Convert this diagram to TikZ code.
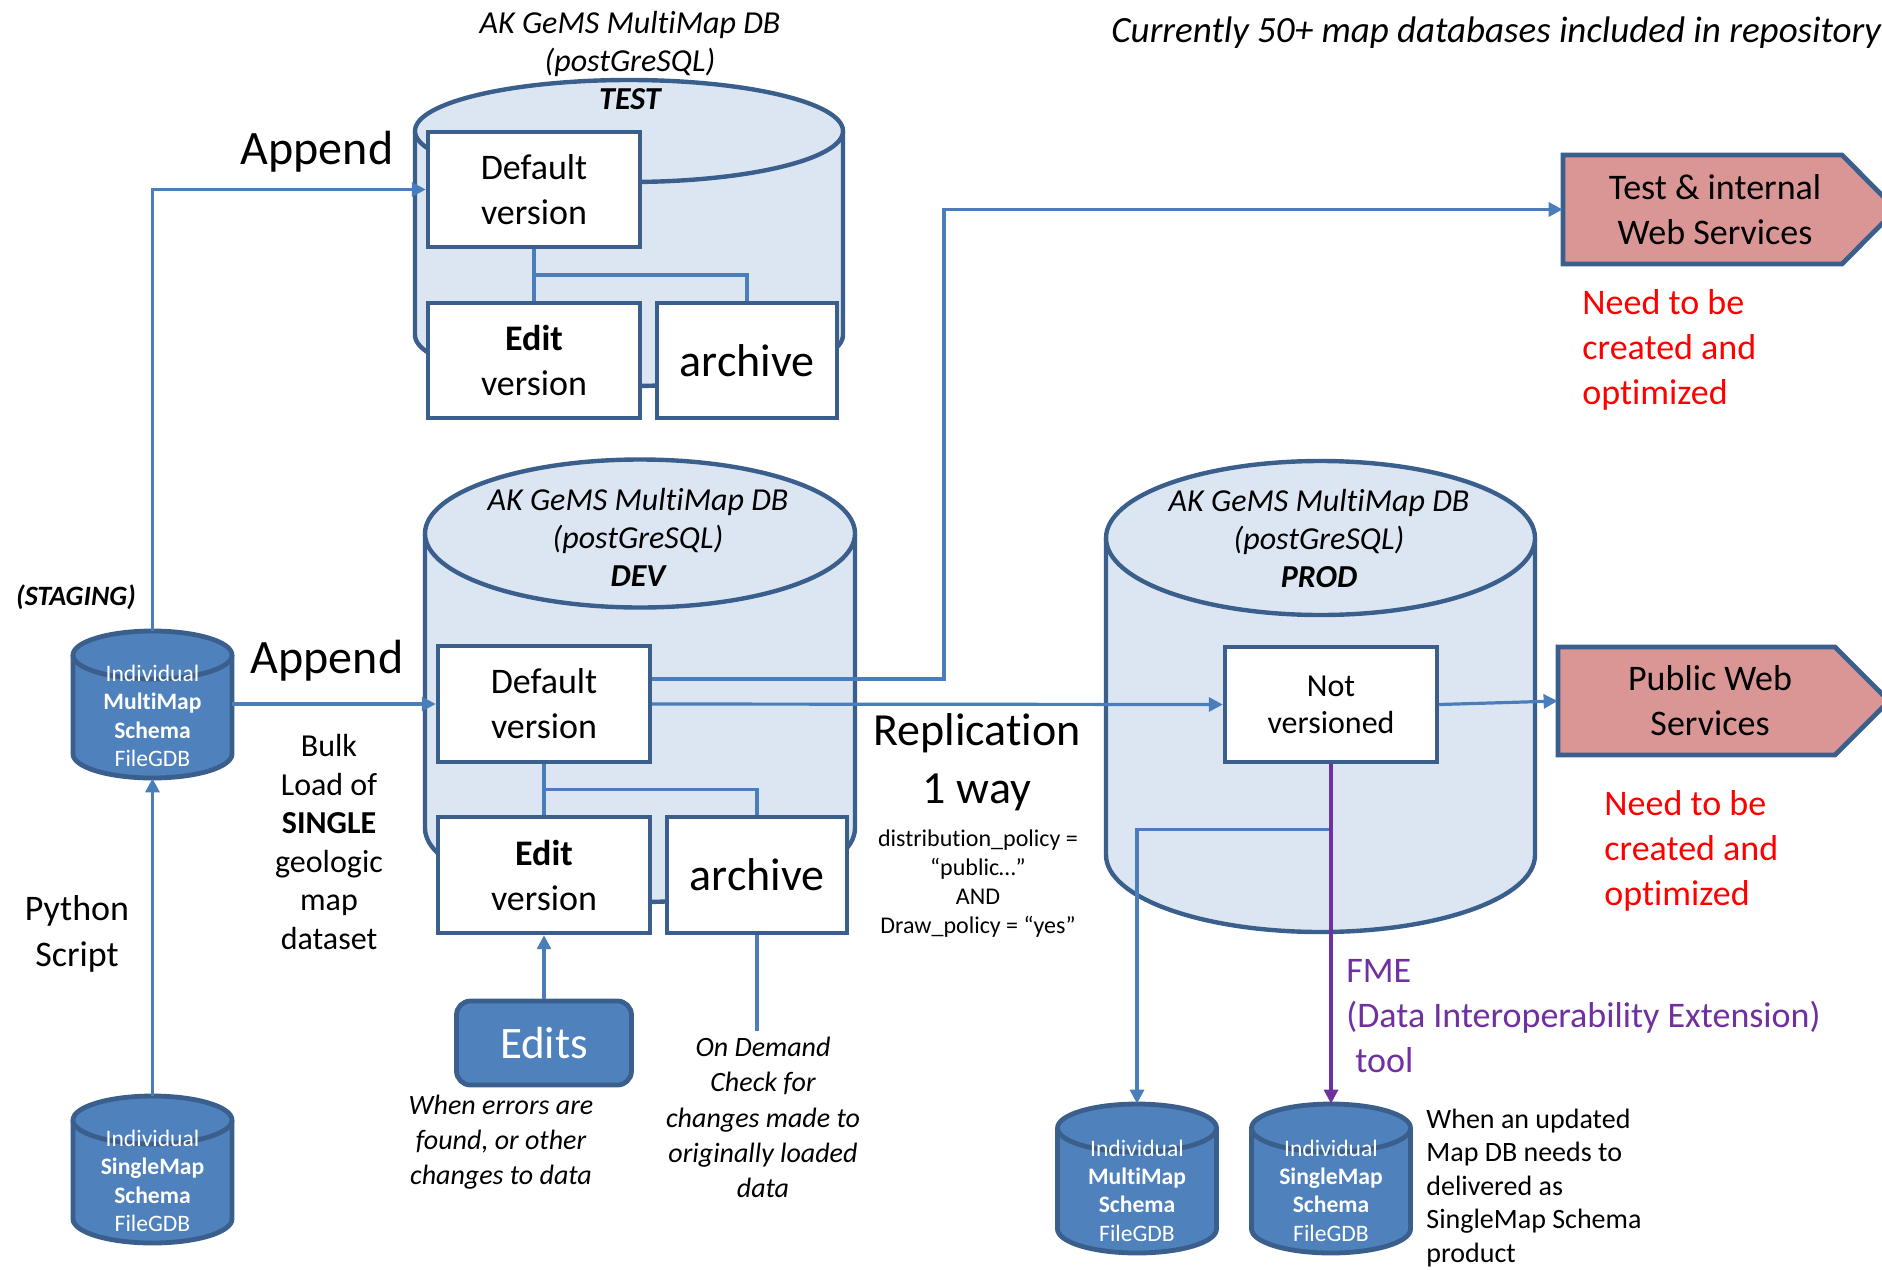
\documentclass[tikz,border=0pt]{standalone}
\usepackage{fontspec}
\setmainfont{Carlito}[Ligatures=NoCommon]
\usetikzlibrary{arrows.meta,calc}
\definecolor{cylfill}{HTML}{DCE6F2}
\definecolor{cylline}{HTML}{3B5F8C}
\definecolor{connblue}{HTML}{4A7EBB}
\definecolor{accentblue}{HTML}{4F81BD}
\definecolor{webfill}{HTML}{D99694}
\definecolor{fmepurple}{HTML}{7030A0}
\definecolor{needred}{HTML}{FF0000}
% #1 style, #2 cx, #3 y of top ellipse centre, #4 y of bottom ellipse centre, #5 rx, #6 ry
\newcommand{\dbcyl}[6]{%
  \path[#1, draw=none] ({#2-#5},{#3}) -- ({#2-#5},{#4})
    .. controls ({#2-#5},{#4+0.5523*#6}) and ({#2-0.5523*#5},{#4+#6}) .. ({#2},{#4+#6})
    .. controls ({#2+0.5523*#5},{#4+#6}) and ({#2+#5},{#4+0.5523*#6}) .. ({#2+#5},{#4})
    -- ({#2+#5},{#3}) -- cycle;
  \path[#1, fill=none] ({#2-#5},{#3}) -- ({#2-#5},{#4})
    .. controls ({#2-#5},{#4+0.5523*#6}) and ({#2-0.5523*#5},{#4+#6}) .. ({#2},{#4+#6})
    .. controls ({#2+0.5523*#5},{#4+#6}) and ({#2+#5},{#4+0.5523*#6}) .. ({#2+#5},{#4})
    -- ({#2+#5},{#3});
  \path[#1] (#2,#3) ellipse [x radius=#5, y radius=#6];
}
\begin{document}
\begin{tikzpicture}[x=0.5pt,y=-0.5pt,
  bigcyl/.style={fill=cylfill, draw=cylline, line width=2.2pt},
  smallcyl/.style={fill=accentblue, draw=cylline, line width=2.4pt},
  websvc/.style={fill=webfill, draw=cylline, line width=2.4pt, line join=miter},
  vbox/.style={draw=cylline, line width=2.2pt, fill=white, align=center, inner sep=0pt,
    font=\fontsize{18}{22.5}\selectfont},
  ghost/.style={draw=none, inner sep=0pt},
  cyltext/.style={align=center, text=white, inner sep=0pt, font=\fontsize{11.8}{14.2}\selectfont},
  dbtitle/.style={align=center, inner sep=0pt, font=\itshape\fontsize{16}{19}\selectfont},
  lbl/.style={align=center, inner sep=0pt},
  conn/.style={draw=connblue, line width=1.6pt},
  arr/.style={conn, -{Triangle[length=7pt,width=7pt]}}]
\useasboundingbox (0,0) rectangle (1882,1269);

% database cylinders
\dbcyl{bigcyl}{629}{131}{335}{214}{51}
\dbcyl{bigcyl}{640}{533.5}{828}{215}{74}
\dbcyl{bigcyl}{1320.5}{538}{855}{214.5}{77}
\dbcyl{smallcyl}{152.5}{655}{754}{79.5}{24}
\dbcyl{smallcyl}{152.5}{1120}{1219}{79.5}{24}
\dbcyl{smallcyl}{1137}{1128}{1229}{79.5}{24}
\dbcyl{smallcyl}{1331}{1128}{1229}{79.5}{24}

% web service pentagons
\path[websvc] (1563,155) -- (1842,155) -- (1896,209.5) -- (1842,264) -- (1563,264) -- cycle;
\path[websvc] (1558,647) -- (1835,647) -- (1889,701) -- (1835,755) -- (1558,755) -- cycle;

% boxes
\node[vbox, minimum width=106pt, minimum height=57.5pt] (tdef) at (534,189.5) {Default\\version};
\node[vbox, minimum width=106pt, minimum height=57.5pt] (tedit) at (534,360.5) {\textbf{Edit}\\version};
\node[vbox, minimum width=90pt, minimum height=57.5pt, font=\fontsize{23}{27}\selectfont] (tarch) at (747,360.5) {archive};
\node[vbox, minimum width=106pt, minimum height=58pt] (ddef) at (544,704) {Default\\version};
\node[vbox, minimum width=106pt, minimum height=58pt] (dedit) at (544,875) {\textbf{Edit}\\version};
\node[vbox, minimum width=90pt, minimum height=58pt, font=\fontsize{23}{27}\selectfont] (darch) at (757,875) {archive};
\node[vbox, minimum width=106pt, minimum height=57.5pt, font=\fontsize{16}{18.5}\selectfont] (pnv) at (1331,704.5) {Not\\versioned};
\node[draw=cylline, fill=accentblue, line width=2.4pt, rounded corners=7pt, minimum width=87.5pt,
  minimum height=42pt, inner sep=0pt, text=white, font=\fontsize{22.5}{27}\selectfont] (edits) at (544,1043) {Edits};

% small cylinder bodies (named) and their texts
\node[ghost, minimum width=79.5pt, minimum height=73.5pt] (stg) at (152.5,704.5) {};
\node[cyltext] (stgtxt) at (152.5,716) {Individual\\\textbf{MultiMap}\\\textbf{Schema}\\FileGDB};
\node[ghost, minimum width=79.5pt, minimum height=73.5pt] (slb) at (152.5,1169.5) {};
\node[cyltext] (slbtxt) at (152.5,1181) {Individual\\\textbf{SingleMap}\\\textbf{Schema}\\FileGDB};
\node[ghost, minimum width=79.5pt, minimum height=74.5pt] (mmb) at (1137,1178.5) {};
\node[cyltext] (mmbtxt) at (1137,1190.5) {Individual\\\textbf{MultiMap}\\\textbf{Schema}\\FileGDB};
\node[ghost, minimum width=79.5pt, minimum height=74.5pt] (smb) at (1331,1178.5) {};
\node[cyltext] (smbtxt) at (1331,1190.5) {Individual\\\textbf{SingleMap}\\\textbf{Schema}\\FileGDB};

% web service nodes
\node[ghost, minimum width=152pt, minimum height=54.5pt, align=center, font=\fontsize{18}{22.5}\selectfont] (twss) at (1715,209.5) {Test \& internal\\Web Services};
\node[ghost, minimum width=152pt, minimum height=54pt, align=center, font=\fontsize{18}{22.5}\selectfont] (pws) at (1710,701) {Public Web\\Services};

% texts
\node[lbl, anchor=west, font=\itshape\fontsize{18.5}{22}\selectfont] (title) at (1111,33) {Currently 50+ map databases included in repository};
\node[dbtitle] (ttitle) at (630,60) {AK GeMS MultiMap DB\\(postGreSQL)\\\textbf{TEST}};
\node[dbtitle] (dtitle) at (638,537) {AK GeMS MultiMap DB\\(postGreSQL)\\\textbf{DEV}};
\node[dbtitle] (ptitle) at (1319,538) {AK GeMS MultiMap DB\\(postGreSQL)\\\textbf{PROD}};
\node[lbl, font=\fontsize{24}{29}\selectfont] (app1) at (317,152) {Append};
\node[lbl, font=\fontsize{24}{29}\selectfont] (app2) at (327,661) {Append};
\node[lbl, font=\bfseries\itshape\fontsize{14}{17}\selectfont] (staging) at (76,597) {(STAGING)};
\node[lbl, font=\fontsize{16}{19.25}\selectfont] (bulk) at (329,842) {Bulk\\Load of\\\textbf{SINGLE}\\geologic\\map\\dataset};
\node[lbl, font=\fontsize{18}{23}\selectfont] (python) at (77,934) {Python\\Script};
\node[lbl, font=\itshape\fontsize{14}{17.5}\selectfont] (whenerr) at (501,1142) {When errors are\\found, or other\\changes to data};
\node[lbl, font=\itshape\fontsize{14}{17.6}\selectfont] (ondemand) at (763,1117.5) {On Demand\\Check for\\changes made to\\originally loaded\\data};
\node[lbl, font=\fontsize{23}{29}\selectfont] (repl) at (977,762) {Replication\\1 way};
\node[lbl, font=\fontsize{12}{14.5}\selectfont] (policy) at (978,883.5) {distribution\_policy =\\“public…”\\AND\\Draw\_policy = “yes”};
\node[lbl, align=left, anchor=west, text=needred, font=\fontsize{18}{22.5}\selectfont] (need1) at (1582,350) {Need to be\\created and\\optimized};
\node[lbl, align=left, anchor=west, text=needred, font=\fontsize{18}{22.5}\selectfont] (need2) at (1604,851) {Need to be\\created and\\optimized};
\node[lbl, align=left, anchor=west, text=fmepurple, font=\fontsize{18}{22.5}\selectfont] (fme) at (1346,1016) {FME\\(Data Interoperability Extension)\\\hspace*{0.25em}tool};
\node[lbl, align=left, anchor=west, font=\fontsize{14}{16.75}\selectfont] (updated) at (1426,1188) {When an updated\\Map DB needs to\\delivered as\\SingleMap Schema\\product};

% connectors
\draw[arr] (stg.north) |- (tdef.west);
\draw[arr] (stg.east |- ddef.west) -- (ddef.west);
\draw[arr] (slb.north) -- (stg.south);
\draw[conn] (tdef.south) -- (tedit.north);
\draw[conn] ($(tdef.south)!0.5!(tedit.north)$) -| (tarch.north);
\draw[conn] (ddef.south) -- (dedit.north);
\draw[conn] ($(ddef.south)!0.5!(dedit.north)$) -| (darch.north);
\draw[arr] (edits.north) -- (dedit.south);
\draw[conn, shorten >=3pt] (darch.south) -- (darch.south |- ondemand.north);
\coordinate (upx) at (944,0);
\draw[arr] ([yshift=12.5pt]ddef.east) -| (upx |- twss.west) -- (twss.west);
\draw[arr] (ddef.east) -- (pnv.west);
\draw[arr] (pnv.east) -- (pws.west);
\coordinate (pj) at ($(pnv.south)+(0,65)$);
\draw[arr] (pj) -| (mmb.north);
\draw[arr, draw=fmepurple] (pnv.south) -- (smb.north);
\end{tikzpicture}
\end{document}
